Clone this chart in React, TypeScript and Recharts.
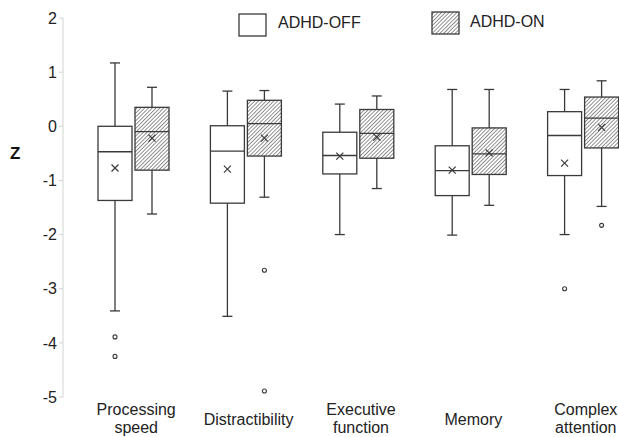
import React from "react";
import { ComposedChart, Bar, XAxis, YAxis, Legend } from "recharts";

const categories = ["Processing speed", "Distractibility", "Executive function", "Memory", "Complex attention"];

// ADHD-OFF box statistics
const offHigh = [1.17, 0.65, 0.41, 0.68, 0.68];
const offQ3 = [0.0, 0.01, -0.11, -0.36, 0.27];
const offMedian = [-0.47, -0.46, -0.54, -0.82, -0.17];
const offQ1 = [-1.37, -1.42, -0.88, -1.28, -0.91];
const offLow = [-3.41, -3.51, -2.0, -2.01, -2.0];
const offMean = [-0.77, -0.79, -0.55, -0.81, -0.68];
const offOutliers = [[-3.89, -4.25], [], [], [], [-3.0]];

// ADHD-ON box statistics
const onHigh = [0.72, 0.66, 0.56, 0.68, 0.84];
const onQ3 = [0.35, 0.48, 0.31, -0.03, 0.54];
const onMedian = [-0.1, 0.05, -0.13, -0.51, 0.15];
const onQ1 = [-0.81, -0.55, -0.59, -0.89, -0.4];
const onLow = [-1.62, -1.31, -1.15, -1.46, -1.48];
const onMean = [-0.22, -0.22, -0.2, -0.49, -0.02];
const onOutliers = [[], [-2.66, -4.89], [], [], [-1.83]];

const yTicks = [-5, -4, -3, -2, -1, 0, 1, 2];

const data = categories.map((name, i) => ({
  name,
  off: [offLow[i], offHigh[i]],
  on: [onLow[i], onHigh[i]],
  offStats: { q1: offQ1[i], med: offMedian[i], q3: offQ3[i], mean: offMean[i], out: offOutliers[i] },
  onStats: { q1: onQ1[i], med: onMedian[i], q3: onQ3[i], mean: onMean[i], out: onOutliers[i] },
}));

const STROKE = "#3a3a3a";
const FONT = "'Liberation Sans', Arial, sans-serif";

const makeBox = (key: "offStats" | "onStats", fill: string) => (props: any) => {
  const { x, y, width, height, payload } = props;
  const range = key === "offStats" ? payload.off : payload.on;
  const lo = range[0];
  const hi = range[1];
  const top = height >= 0 ? y : y + height;
  const h = Math.abs(height);
  const py = (v: number) => top + ((hi - v) / (hi - lo)) * h;
  const s = payload[key];
  const cx = x + width / 2;
  const cap = 5;
  const m = 3.5;
  const my = py(s.mean);
  return (
    <g>
      <line x1={cx} x2={cx} y1={py(hi)} y2={py(lo)} stroke={STROKE} strokeWidth={1.3} />
      <line x1={cx - cap} x2={cx + cap} y1={py(hi)} y2={py(hi)} stroke={STROKE} strokeWidth={1.3} />
      <line x1={cx - cap} x2={cx + cap} y1={py(lo)} y2={py(lo)} stroke={STROKE} strokeWidth={1.3} />
      <rect x={x} y={py(s.q3)} width={width} height={py(s.q1) - py(s.q3)} fill={fill} stroke={STROKE} strokeWidth={1.3} />
      <line x1={x} x2={x + width} y1={py(s.med)} y2={py(s.med)} stroke={STROKE} strokeWidth={1.3} />
      <line x1={cx - m} x2={cx + m} y1={my - m} y2={my + m} stroke={STROKE} strokeWidth={1.2} />
      <line x1={cx - m} x2={cx + m} y1={my + m} y2={my - m} stroke={STROKE} strokeWidth={1.2} />
      {s.out.map((v: number, j: number) => (
        <circle key={j} cx={cx} cy={py(v)} r={2} fill="#fff" stroke={STROKE} strokeWidth={1.1} />
      ))}
    </g>
  );
};

const CategoryTick = (props: any) => {
  const { x, y, payload } = props;
  const words = String(payload.value).split(" ");
  const lines = words.length > 1 ? words : [payload.value];
  const startY = lines.length > 1 ? y + 10 : y + 20;
  return (
    <text x={x + 3} y={startY} textAnchor="middle" fontFamily={FONT} fontSize={16} fill="#222">
      {lines.map((w: string, i: number) => (
        <tspan key={i} x={x + 3} dy={i === 0 ? 0 : 18}>
          {w}
        </tspan>
      ))}
    </text>
  );
};

const hatchPattern = (id: string) => (
  <pattern id={id} patternUnits="userSpaceOnUse" width={2.7} height={2.7} patternTransform="rotate(45)">
    <rect width={2.7} height={2.7} fill="#fff" />
    <line x1={0} y1={0} x2={0} y2={2.7} stroke="#4a4a4a" strokeWidth={1.2} />
  </pattern>
);

const LegendContent = () => (
  <div style={{ position: "relative", width: 619, height: 40, fontFamily: FONT, fontSize: 16, color: "#222" }}>
    <svg width={30} height={24} style={{ position: "absolute", left: 238, top: 13 }}>
      <rect x={1} y={1} width={27} height={22} fill="#fff" stroke={STROKE} strokeWidth={1.3} />
    </svg>
    <span style={{ position: "absolute", left: 278, top: 14 }}>ADHD-OFF</span>
    <svg width={30} height={24} style={{ position: "absolute", left: 431, top: 11 }}>
      <defs>{hatchPattern("hatchLegend")}</defs>
      <rect x={1} y={1} width={27} height={22} fill="url(#hatchLegend)" stroke={STROKE} strokeWidth={1.3} />
    </svg>
    <span style={{ position: "absolute", left: 470, top: 13 }}>ADHD-ON</span>
  </div>
);

export default function App() {
  return (
    <div style={{ position: "absolute", left: 0, top: 0, width: 619, height: 437, overflow: "hidden", background: "#fff" }}>
      <ComposedChart
        width={639}
        height={437}
        data={data}
        margin={{ top: 18, right: 0, bottom: 0, left: 0 }}
        barSize={34}
        barGap={3}
      >
        <defs>{hatchPattern("hatch")}</defs>
        <XAxis
          dataKey="name"
          axisLine={false}
          tickLine={false}
          height={40}
          padding={{ left: 14, right: 0 }}
          tick={<CategoryTick />}
          interval={0}
        />
        <YAxis
          width={63}
          domain={[-5, 2]}
          ticks={yTicks}
          interval={0}
          axisLine={{ stroke: "#d4d4d4" }}
          tickLine={{ stroke: "#d4d4d4" }}
          tickSize={4}
          tick={{ fill: "#222", fontSize: 16, fontFamily: FONT }}
          label={{ value: "Z", angle: 0, position: "insideLeft", offset: 10, dy: -55, fill: "#111", fontSize: 17, fontWeight: "bold", fontFamily: FONT }}
        />
        <Legend
          layout="horizontal"
          verticalAlign="middle"
          align="center"
          wrapperStyle={{ top: 0, left: 0, width: 619 }}
          content={<LegendContent />}
        />
        <Bar dataKey="off" isAnimationActive={false} shape={makeBox("offStats", "#fff")} />
        <Bar dataKey="on" isAnimationActive={false} shape={makeBox("onStats", "url(#hatch)")} />
      </ComposedChart>
    </div>
  );
}
